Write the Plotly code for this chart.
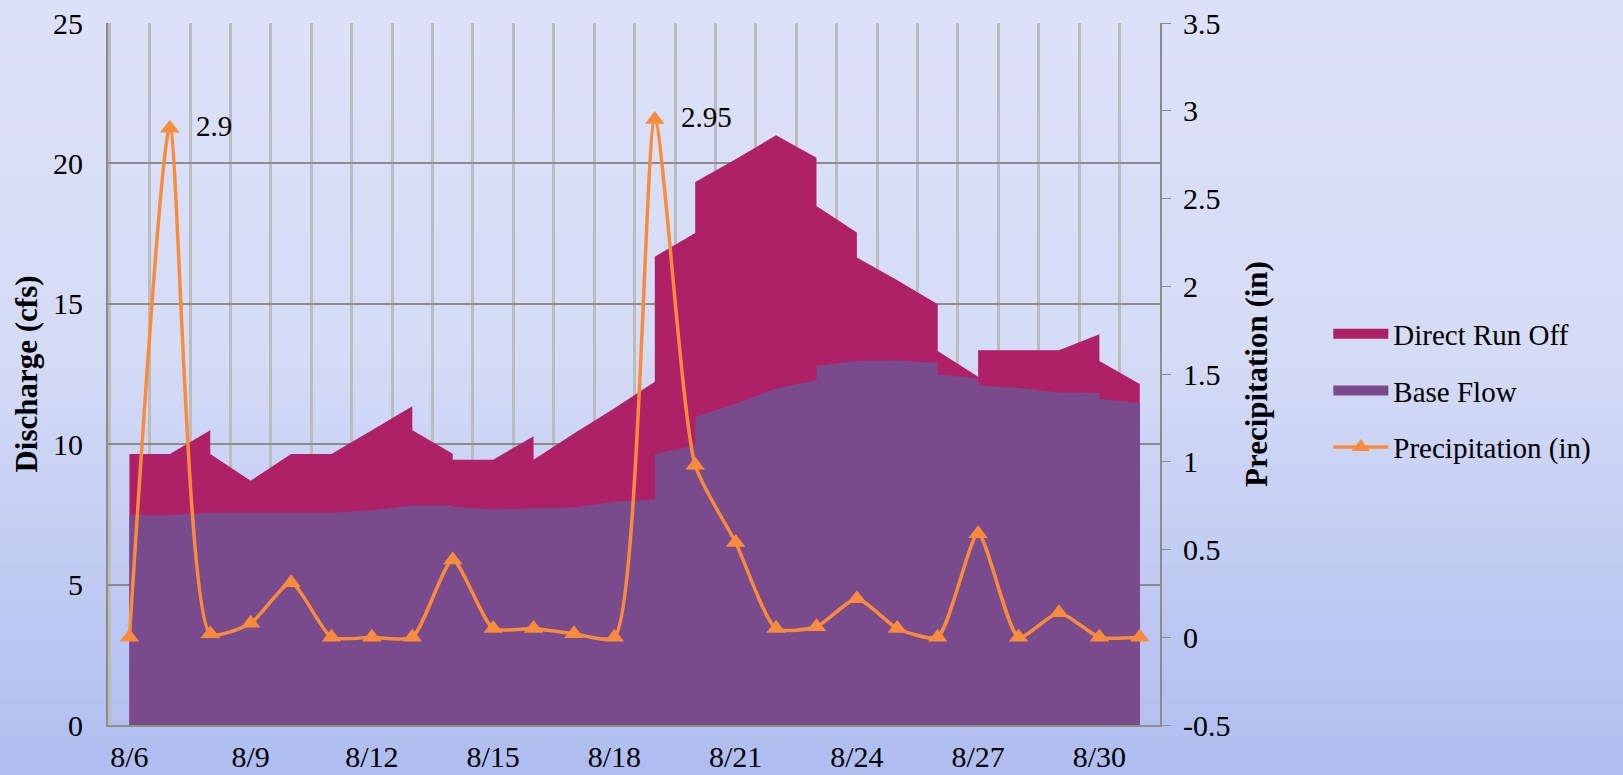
#! /usr/bin/env python3

import plotly.graph_objects as go

# flow record (day of August); repeated days carry the step jumps of the record
flow_day = [6, 7, 8, 8, 9, 10, 11, 12, 13, 13, 14, 14, 15, 16, 16, 17, 18, 19, 19,
            20, 20, 21, 22, 23, 23, 24, 24, 25, 26, 26, 27, 27, 28, 29, 30, 30, 31]
total_flow = [9.65, 9.65, 10.5, 9.65, 8.7, 9.65, 9.65, 10.5, 11.35, 10.5, 9.66, 9.45,
              9.45, 10.28, 9.45, 10.38, 11.28, 12.22, 16.68, 17.52, 19.34, 20.15, 21.0,
              20.2, 18.48, 17.54, 16.65, 15.84, 14.98, 13.32, 12.4, 13.35, 13.35, 13.35,
              13.92, 12.96, 12.14]
base_flow = [7.47, 7.48, 7.56, 7.56, 7.56, 7.56, 7.56, 7.65, 7.82, 7.82, 7.82, 7.76,
             7.68, 7.72, 7.72, 7.75, 7.95, 8.04, 9.64, 9.96, 10.97, 11.45, 11.98,
             12.28, 12.79, 12.96, 12.96, 12.98, 12.9, 12.49, 12.34, 12.1, 12.0, 11.84,
             11.83, 11.62, 11.47]

precip_day = list(range(6, 32))
precip = [0.0, 2.9, 0.02, 0.08, 0.31, 0.0, 0.0, 0.0, 0.44, 0.05, 0.05, 0.02, 0.0,
          2.95, 0.98, 0.54, 0.05, 0.06, 0.22, 0.05, 0.0, 0.59, 0.0, 0.14, 0.0, 0.0]
precip_labels = ["", "  2.9", "", "", "", "", "", "", "", "", "", "", "",
                 "  2.95", "", "", "", "", "", "", "", "", "", "", "", ""]

x_tickvals = [6, 9, 12, 15, 18, 21, 24, 27, 30]
x_ticktext = ["8/6", "8/9", "8/12", "8/15", "8/18", "8/21", "8/24", "8/27", "8/30"]
y2_tickvals = [-0.5, 0, 0.5, 1, 1.5, 2, 2.5, 3, 3.5]
y2_ticktext = ["-0.5", "0", "0.5", "1", "1.5", "2", "2.5", "3", "3.5"]

FONT = "Liberation Serif"
AXIS = "#8c8c8c"
RUNOFF = "#ae2166"
BASE = "#794a8c"
PRECIP = "#f98b3d"


def main():
    fig = go.Figure()
    fig.add_trace(go.Scatter(x=flow_day, y=total_flow, name="Direct Run Off",
                             mode="none", fill="tozeroy", fillcolor=RUNOFF,
                             showlegend=False))
    fig.add_trace(go.Scatter(x=flow_day, y=base_flow, name="Base Flow",
                             mode="none", fill="tozeroy", fillcolor=BASE,
                             showlegend=False))
    # legend keys as thick bars, like the slide
    fig.add_trace(go.Scatter(x=[None], y=[None], name="Direct Run Off", mode="lines",
                             line=dict(color=RUNOFF, width=15), legendgroup="a"))
    fig.add_trace(go.Scatter(x=[None], y=[None], name="Base Flow", mode="lines",
                             line=dict(color=BASE, width=15), legendgroup="b"))
    fig.add_trace(go.Scatter(x=precip_day, y=precip, name="Precipitation (in)",
                             yaxis="y2", mode="lines+markers+text",
                             text=precip_labels, textposition="middle right",
                             textfont=dict(family=FONT, size=29, color="black"),
                             line=dict(color=PRECIP, width=3.5, shape="spline",
                                       smoothing=0.6),
                             marker=dict(symbol="triangle-up", size=17, color=PRECIP),
                             legendgroup="c", cliponaxis=False))

    # soft slide background gradient
    shapes = []
    n = 40
    top, mid, bot = (221, 226, 248), (213, 220, 246), (175, 189, 240)
    for i in range(n):
        t = (i + 0.5) / n
        if t < 0.45:
            f = t / 0.45
            c = [a + (b - a) * f for a, b in zip(top, mid)]
        else:
            f = (t - 0.45) / 0.55
            c = [a + (b - a) * f for a, b in zip(mid, bot)]
        y1 = 1.035 - i * (1.11 / n)
        y0 = y1 - 1.11 / n - 0.002
        shapes.append(dict(type="rect", xref="paper", yref="paper", x0=-0.2, x1=1.5,
                           y0=y0, y1=y1, layer="below", line=dict(width=0),
                           fillcolor="rgb(%d,%d,%d)" % tuple(int(v) for v in c)))

    fig.update_layout(
        width=1623, height=775,
        margin=dict(l=108, r=463, t=23, b=50),
        paper_bgcolor="rgb(221,226,248)", plot_bgcolor="rgba(0,0,0,0)",
        font=dict(family=FONT, size=30, color="black"),
        shapes=shapes,
        legend=dict(x=1.16, y=0.476, xanchor="left", yanchor="middle",
                    bgcolor="rgba(0,0,0,0)", font=dict(family=FONT, size=29),
                    tracegroupgap=16, itemwidth=55),
        xaxis=dict(range=[5.47, 31.5], tickmode="array", tickvals=x_tickvals,
                   ticktext=x_ticktext, showgrid=False, zeroline=False,
                   showline=True, linecolor=AXIS, linewidth=2, ticks="",
                   ticklabelstandoff=4, automargin=False,
                   minor=dict(dtick=1, tick0=0.5, showgrid=True,
                              gridcolor="#bcbcbc", gridwidth=2.5)),
        yaxis=dict(range=[0, 25], dtick=5, gridcolor=AXIS, gridwidth=2,
                   zeroline=False, showline=True, linecolor=AXIS, linewidth=2,
                   ticks="", ticklabelstandoff=17, automargin=False,
                   title=dict(text="Discharge (cfs)", standoff=6,
                              font=dict(family=FONT, size=31, weight="bold"))),
        yaxis2=dict(overlaying="y", side="right", range=[-0.5, 3.5],
                    tickmode="array", tickvals=y2_tickvals, ticktext=y2_ticktext,
                    showgrid=False, zeroline=False, showline=True, linecolor=AXIS,
                    linewidth=2, ticks="outside", ticklen=9, tickcolor=AXIS,
                    ticklabelstandoff=6, automargin=False,
                    title=dict(text="Precipitation (in)", standoff=16,
                               font=dict(family=FONT, size=31, weight="bold"))),
    )
    fig.write_html("out.html", config={"displayModeBar": False},
                   post_script="document.body.style.margin='0';")


if __name__ == "__main__":
    main()
